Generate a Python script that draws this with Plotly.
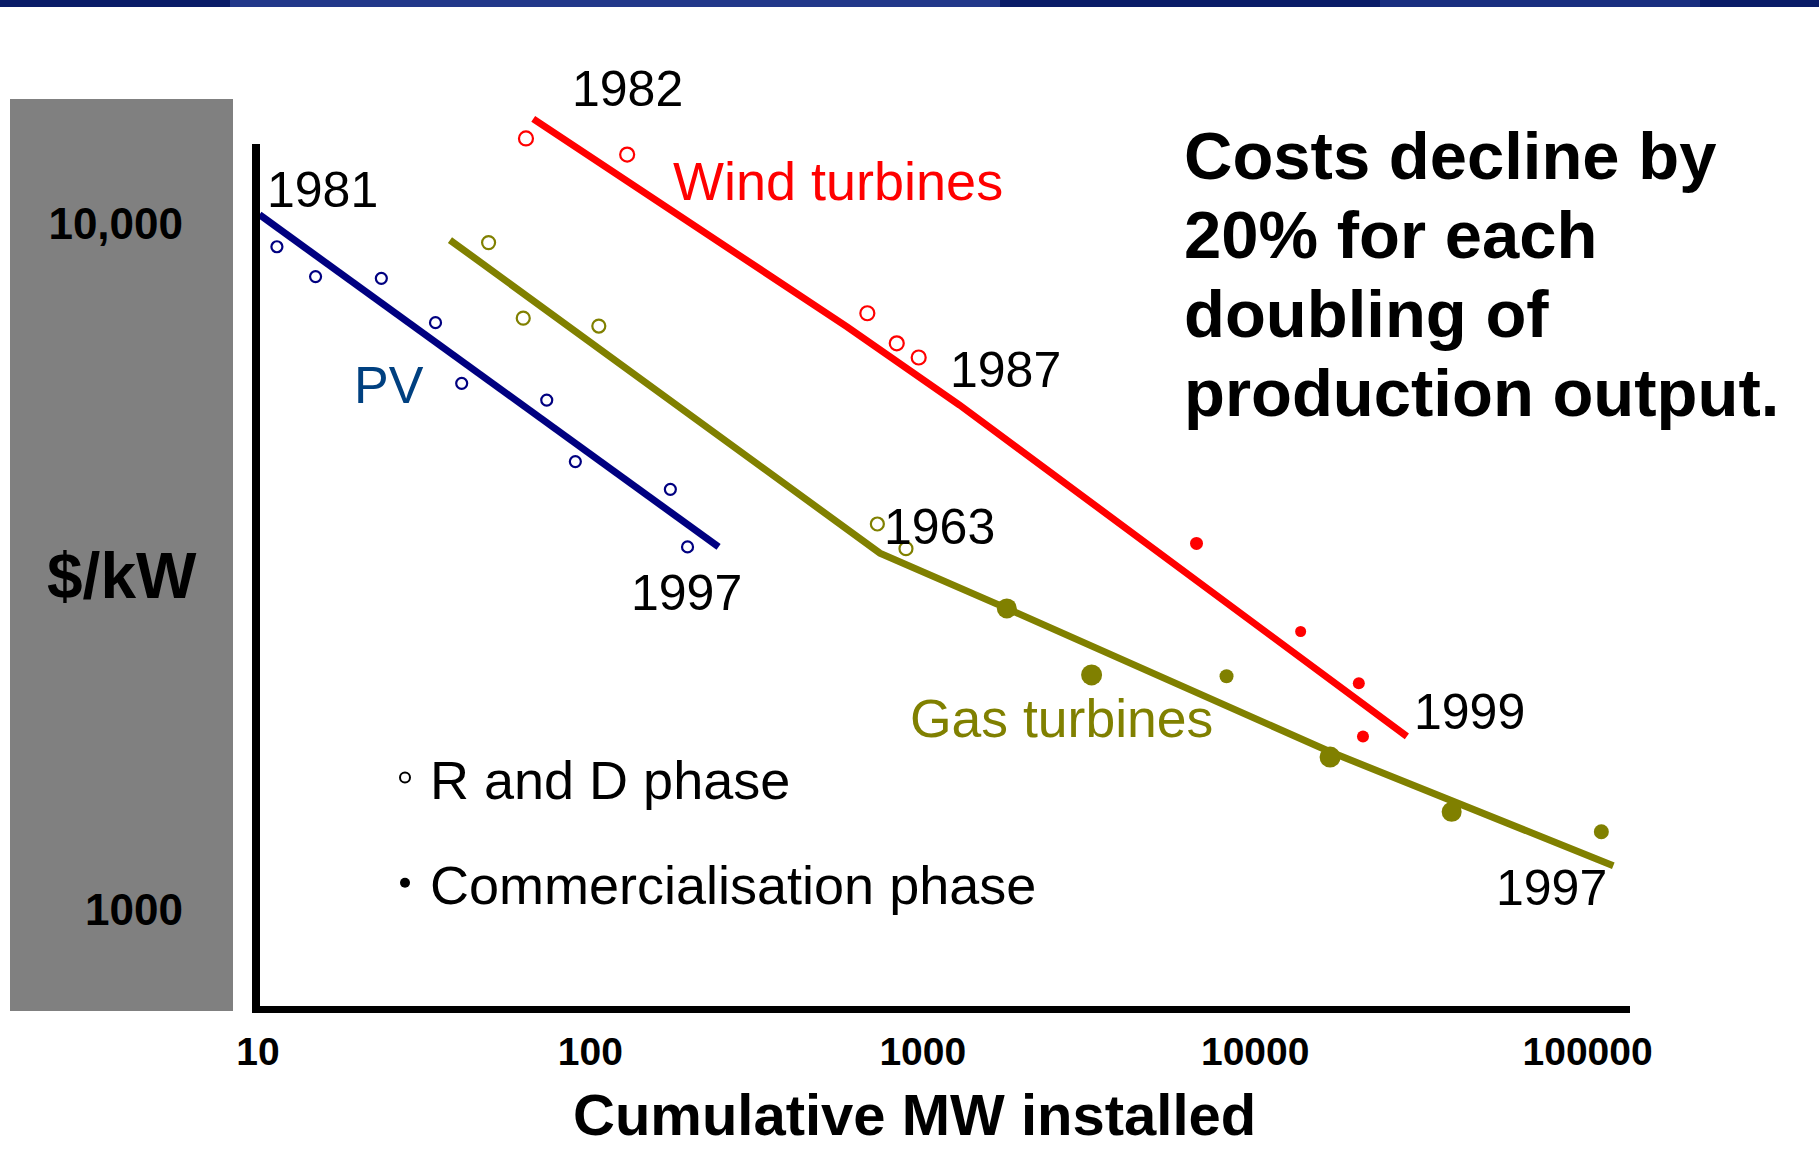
import plotly.graph_objects as go

# ---------------- data ----------------
PV_LINE_X = [10.1, 243]
PV_LINE_Y = [10300, 3380]
PV_RD_X = [11.4, 14.9, 23.5, 34.2, 41.0, 73.9, 90.1, 174, 196]
PV_RD_Y = [9250, 8370, 8320, 7170, 5850, 5530, 4500, 4100, 3380]

WIND_LINE_X = [67.3, 592, 1290, 28600]
WIND_LINE_Y = [14200, 7070, 5440, 1790]
WIND_RD_X = [64.0, 129, 681, 835, 972]
WIND_RD_Y = [13300, 12600, 7400, 6690, 6380]
WIND_COM_X = [6660, 13700, 20500, 21100]
WIND_COM_Y = [3420, 2545, 2140, 1790]

GAS_LINE_X = [37.8, 743, 1790, 16800, 119500]
GAS_LINE_Y = [9460, 3310, 2750, 1700, 1160]
GAS_RD_X = [49.4, 62.8, 106, 730, 890]
GAS_RD_Y = [9380, 7280, 7090, 3650, 3360]
GAS_COM_X = [1790, 3220, 8200, 16800, 39000, 110000]
GAS_COM_Y = [2750, 2200, 2190, 1670, 1390, 1300]

X_TICK_VALS = [10, 100, 1000, 10000, 100000]
X_TICK_TEXT = ["10", "100", "1000", "10000", "100000"]
Y_TICK_VALS = [1000, 10000]
Y_TICK_TEXT = ["1000", "10,000"]

SERIES_LABELS = ["PV", "Wind turbines", "Gas turbines"]
YEAR_LABELS = ["1981", "1997", "1982", "1987", "1999", "1963", "1997"]
LEGEND_LABELS = ["R and D phase", "Commercialisation phase"]
X_TITLE = "Cumulative MW installed"
Y_TITLE = "$/kW"
NOTE_LINES = ["Costs decline by", "20% for each", "doubling of", "production output."]

# ---------------- layout geometry ----------------
W, H = 1819, 1150
L, R, T, B = 256, 1630, 60, 1006
FONT = "Liberation Sans, Arial, sans-serif"

RED = "#ff0000"
NAVY = "#000080"
OLIVE = "#808000"
PVBLUE = "#004080"


def px(x):
    return (x - L) / (R - L)


def py(y):
    return (B - y) / (B - T)


fig = go.Figure()

# trend lines
for xs, ys, col in [(PV_LINE_X, PV_LINE_Y, NAVY),
                    (WIND_LINE_X, WIND_LINE_Y, RED),
                    (GAS_LINE_X, GAS_LINE_Y, OLIVE)]:
    fig.add_trace(go.Scatter(x=xs, y=ys, mode="lines", showlegend=False,
                             line=dict(color=col, width=7), hoverinfo="skip"))

# R&D phase (open) points
for xs, ys, col, sz in [(PV_RD_X, PV_RD_Y, NAVY, 11),
                        (WIND_RD_X, WIND_RD_Y, RED, 14),
                        (GAS_RD_X, GAS_RD_Y, OLIVE, 13)]:
    fig.add_trace(go.Scatter(x=xs, y=ys, mode="markers", showlegend=False,
                             marker=dict(symbol="circle-open", size=sz, color=col, opacity=1,
                                         line=dict(width=2.2, color=col))))

# commercialisation (filled) points
WIND_DOT_SIZES = [13, 11, 12, 12]
GAS_DOT_SIZES = [20, 21, 14, 21, 20, 15]
fig.add_trace(go.Scatter(x=WIND_COM_X, y=WIND_COM_Y, mode="markers", showlegend=False,
                         marker=dict(symbol="circle", size=WIND_DOT_SIZES, color=RED, opacity=1,
                                     line=dict(width=0))))
fig.add_trace(go.Scatter(x=GAS_COM_X, y=GAS_COM_Y, mode="markers", showlegend=False,
                         marker=dict(symbol="circle", size=GAS_DOT_SIZES, color=OLIVE, opacity=1,
                                     line=dict(width=0))))

# legend entries (black symbols)
fig.add_trace(go.Scatter(x=[None], y=[None], mode="markers", name=LEGEND_LABELS[0],
                         legendgroup="rd",
                         marker=dict(symbol="circle-open", size=10, color="black", opacity=1,
                                     line=dict(width=2, color="black"))))
fig.add_trace(go.Scatter(x=[None], y=[None], mode="markers", name=LEGEND_LABELS[1],
                         legendgroup="com",
                         marker=dict(symbol="circle", size=10, color="black", opacity=1)))

shapes = []
# top navy band
shapes.append(dict(type="rect", xref="paper", yref="paper", x0=px(0), x1=px(W),
                   y0=py(7), y1=py(0), fillcolor="#0a1c68", line=dict(width=0), layer="below"))
shapes.append(dict(type="rect", xref="paper", yref="paper", x0=px(230), x1=px(1000),
                   y0=py(7), y1=py(0), fillcolor="#22388a", line=dict(width=0), layer="below"))
shapes.append(dict(type="rect", xref="paper", yref="paper", x0=px(1380), x1=px(1700),
                   y0=py(7), y1=py(0), fillcolor="#1a2f80", line=dict(width=0), layer="below"))
# grey panel behind y labels
shapes.append(dict(type="rect", xref="paper", yref="paper", x0=px(10), x1=px(233),
                   y0=py(1011), y1=py(99), fillcolor="#808080", line=dict(width=0), layer="below"))
# vertical axis line
shapes.append(dict(type="line", xref="paper", yref="paper", x0=px(256), x1=px(256),
                   y0=py(1013), y1=py(144), line=dict(color="black", width=8)))

ann = []


def text(t, x, y, size, color="black", bold=False, anchor="center"):
    ann.append(dict(text=t, xref="paper", yref="paper", x=px(x), y=py(y),
                    xanchor=anchor, yanchor="middle", showarrow=False,
                    font=dict(family=FONT, size=size, color=color,
                              weight="bold" if bold else "normal")))


# series labels
text(SERIES_LABELS[0], 389, 385, 52, PVBLUE)
text(SERIES_LABELS[1], 838, 181, 54, RED)
text(SERIES_LABELS[2], 1061, 718, 53.5, OLIVE)
# year labels
year_pos = [(322, 190), (686, 593), (627, 89), (1005, 370), (1469, 712), (939, 527), (1551, 888)]
for t, (x, y) in zip(YEAR_LABELS, year_pos):
    text(t, x, y, 50)
# note text
for i, line in enumerate(NOTE_LINES):
    text(line, 1182, 155 + 79.3 * i, 67, bold=True, anchor="left")
# axis titles
text(Y_TITLE, 122, 576, 64, bold=True)
text(X_TITLE, 914, 1114, 58, bold=True)

fig.update_layout(
    width=W, height=H,
    margin=dict(l=L, r=W - R, t=T, b=H - B, pad=0),
    paper_bgcolor="white", plot_bgcolor="white",
    font=dict(family=FONT, color="black"),
    shapes=shapes, annotations=ann,
    showlegend=True,
    legend=dict(x=px(380), y=py(736), xanchor="left", yanchor="top",
                font=dict(family=FONT, size=54, color="black"),
                bgcolor="rgba(0,0,0,0)", borderwidth=0,
                traceorder="grouped", tracegroupgap=32, itemwidth=40),
    xaxis=dict(type="log", range=[0.99398, 5.1276], showgrid=False, zeroline=False,
               showline=True, linecolor="black", linewidth=7, ticks="",
               tickvals=X_TICK_VALS, ticktext=X_TICK_TEXT, ticklabelstandoff=5,
               tickfont=dict(family=FONT, size=39, color="black", weight="bold")),
    yaxis=dict(type="log", range=[2.86016, 4.23816], showgrid=False, zeroline=False,
               showline=False, ticks="",
               tickvals=Y_TICK_VALS, ticktext=Y_TICK_TEXT, ticklabelstandoff=72,
               tickfont=dict(family=FONT, size=44, color="black", weight="bold")),
)

fig.write_html("out.html", config={"displayModeBar": False},
               post_script="document.body.style.margin='0';document.body.style.overflow='hidden';")
